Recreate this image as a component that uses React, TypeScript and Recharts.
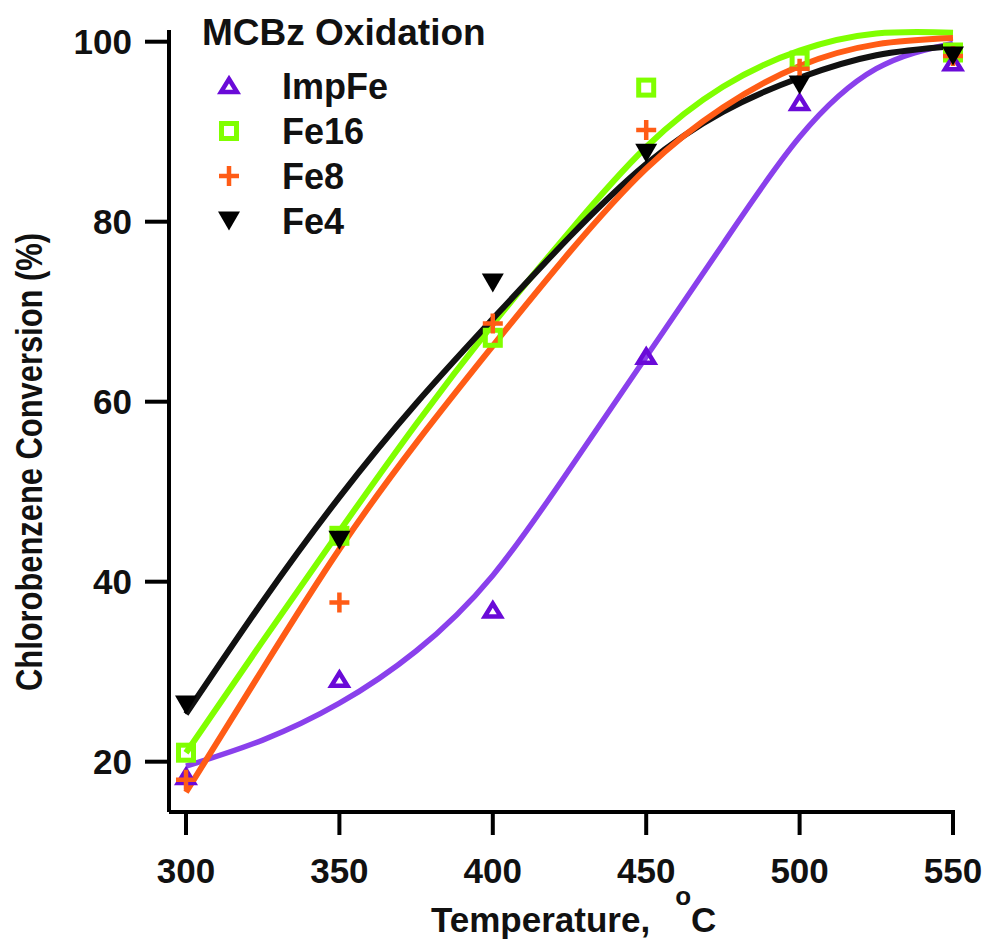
import React from "react";
import { ComposedChart, Line, Scatter, XAxis, YAxis, Legend, Label } from "recharts";

const FONT = "'Liberation Sans', Arial, Helvetica, sans-serif";

// measured points
const TEMPS = [300, 350, 400, 450, 500, 550];
const IMPFE = [18.3, 29.1, 36.8, 65.0, 93.2, 97.6];
const FE16 = [21.0, 45.1, 67.1, 94.9, 97.9, 98.8];
const FE8 = [18.0, 37.7, 68.7, 90.2, 97.0, 98.4];
const FE4 = [26.3, 44.6, 73.2, 87.6, 95.2, 98.4];

// fitted curves, every 25 degrees
const FIT_T = [300, 325, 350, 375, 400, 425, 450, 475, 500, 525, 550];
const FIT_IMPFE = [19.5, 22.4, 26.5, 32.3, 40.7, 52.5, 65.0, 77.5, 89.4, 97.0, 99.8];
const FIT_FE16 = [21.0, 33.4, 45.6, 57.5, 68.6, 78.9, 88.3, 95.0, 99.0, 100.9, 101.0];
const FIT_FE8 = [16.6, 30.3, 43.6, 55.4, 66.2, 76.6, 85.9, 92.7, 97.3, 99.7, 100.4];
const FIT_FE4 = [25.3, 37.8, 49.4, 59.8, 69.2, 78.3, 86.4, 92.2, 96.0, 98.5, 99.5];

const X_TICKS = [300, 350, 400, 450, 500, 550];
const Y_TICKS = [20, 40, 60, 80, 100];
const NAMES = ["ImpFe", "Fe16", "Fe8", "Fe4"];

const PURPLE = "#6a0ad8";
const PURPLE_LINE = "#8a40ec";
const GREEN = "#80ff00";
const ORANGE = "#ff5c16";
const BLACK = "#000";

const pts = (xs: number[], ys: number[]) => xs.map((t, i) => ({ t, v: ys[i] }));

function TriUp({ cx, cy }: any) {
  return (
    <polygon
      points={`${cx},${cy - 7} ${cx + 8},${cy + 6} ${cx - 8},${cy + 6}`}
      fill="none"
      stroke={PURPLE}
      strokeWidth={4.5}
    />
  );
}

function Square({ cx, cy }: any) {
  return <rect x={cx - 7.5} y={cy - 7.5} width={15} height={15} fill="none" stroke={GREEN} strokeWidth={5} />;
}

function Plus({ cx, cy }: any) {
  return (
    <path d={`M${cx - 10},${cy}H${cx + 10}M${cx},${cy - 10}V${cy + 10}`} stroke={ORANGE} strokeWidth={4.5} />
  );
}

function TriDown({ cx, cy }: any) {
  return <polygon points={`${cx - 11},${cy - 9.5} ${cx + 11},${cy - 9.5} ${cx},${cy + 9.5}`} fill={BLACK} />;
}

const MARKERS = [TriUp, Square, Plus, TriDown];

function LegendBox() {
  return (
    <svg width={320} height={250} style={{ display: "block" }}>
      <text x={12} y={45} fontSize={37} fontWeight="bold" fontFamily={FONT} fill="#111">
        MCBz Oxidation
      </text>
      {NAMES.map((n, i) => {
        const M = MARKERS[i];
        const cy = 86 + i * 45;
        return (
          <g key={n}>
            <M cx={39} cy={cy} />
            <text x={92} y={cy + 13} fontSize={36} fontWeight="bold" fontFamily={FONT} fill="#111">
              {n}
            </text>
          </g>
        );
      })}
    </svg>
  );
}

const tickStyle = { fontSize: 35, fontWeight: "bold", fill: "#111", fontFamily: FONT };

export default function App() {
  return (
    <div style={{ position: "absolute", left: 0, top: 0, width: 990, height: 940, background: "#fff" }}>
      <ComposedChart width={990} height={940} margin={{ top: 30, right: 35, left: 0, bottom: 0 }}>
        <XAxis
          type="number"
          dataKey="t"
          domain={[294.46, 550.65]}
          ticks={X_TICKS}
          height={128}
          tickSize={23}
          tickMargin={23}
          tick={tickStyle}
          axisLine={{ stroke: "#000", strokeWidth: 4 }}
          tickLine={{ stroke: "#000", strokeWidth: 4 }}
        >
          <Label
            content={() => (
              <text x={431} y={932} fontSize={35} fontWeight="bold" fontFamily={FONT} fill="#111">
                Temperature,
                <tspan dx={25} dy={-27} fontSize={26}>
                  o
                </tspan>
                <tspan dy={27} fontSize={35}>
                  C
                </tspan>
              </text>
            )}
          />
        </XAxis>
        <YAxis
          type="number"
          dataKey="v"
          domain={[14.41, 101.3]}
          ticks={Y_TICKS}
          width={169}
          tickSize={24}
          tickMargin={13}
          tick={tickStyle}
          axisLine={{ stroke: "#000", strokeWidth: 4 }}
          tickLine={{ stroke: "#000", strokeWidth: 4 }}
        >
          <Label
            content={() => (
              <text
                x={42}
                y={462}
                transform="rotate(-90 42 462)"
                textAnchor="middle"
                fontSize={36}
                fontWeight="bold"
                fontFamily={FONT}
                fill="#111"
                textLength={458}
                lengthAdjust="spacingAndGlyphs"
              >
                Chlorobenzene Conversion (%)
              </text>
            )}
          />
        </YAxis>
        <Legend
          layout="vertical"
          align="center"
          verticalAlign="middle"
          wrapperStyle={{ top: 0, left: 190, width: 320 }}
          content={() => <LegendBox />}
        />
        <Line data={pts(FIT_T, FIT_IMPFE)} dataKey="v" type="natural" stroke={PURPLE_LINE} strokeWidth={5.5} dot={false} activeDot={false} legendType="none" isAnimationActive={false} />
        <Line data={pts(FIT_T, FIT_FE16)} dataKey="v" type="natural" stroke={GREEN} strokeWidth={6} dot={false} activeDot={false} legendType="none" isAnimationActive={false} />
        <Line data={pts(FIT_T, FIT_FE4)} dataKey="v" type="natural" stroke="#111" strokeWidth={6} dot={false} activeDot={false} legendType="none" isAnimationActive={false} />
        <Line data={pts(FIT_T, FIT_FE8)} dataKey="v" type="natural" stroke={ORANGE} strokeWidth={6} dot={false} activeDot={false} legendType="none" isAnimationActive={false} />
        <Scatter data={pts(TEMPS, FE16)} name="Fe16" shape={(p: any) => <Square cx={p.cx} cy={p.cy} />} legendType="none" isAnimationActive={false} />
        <Scatter data={pts(TEMPS, IMPFE)} name="ImpFe" shape={(p: any) => <TriUp cx={p.cx} cy={p.cy} />} legendType="none" isAnimationActive={false} />
        <Scatter data={pts(TEMPS, FE8)} name="Fe8" shape={(p: any) => <Plus cx={p.cx} cy={p.cy} />} legendType="none" isAnimationActive={false} />
        <Scatter data={pts(TEMPS, FE4)} name="Fe4" shape={(p: any) => <TriDown cx={p.cx} cy={p.cy} />} legendType="none" isAnimationActive={false} />
      </ComposedChart>
    </div>
  );
}
